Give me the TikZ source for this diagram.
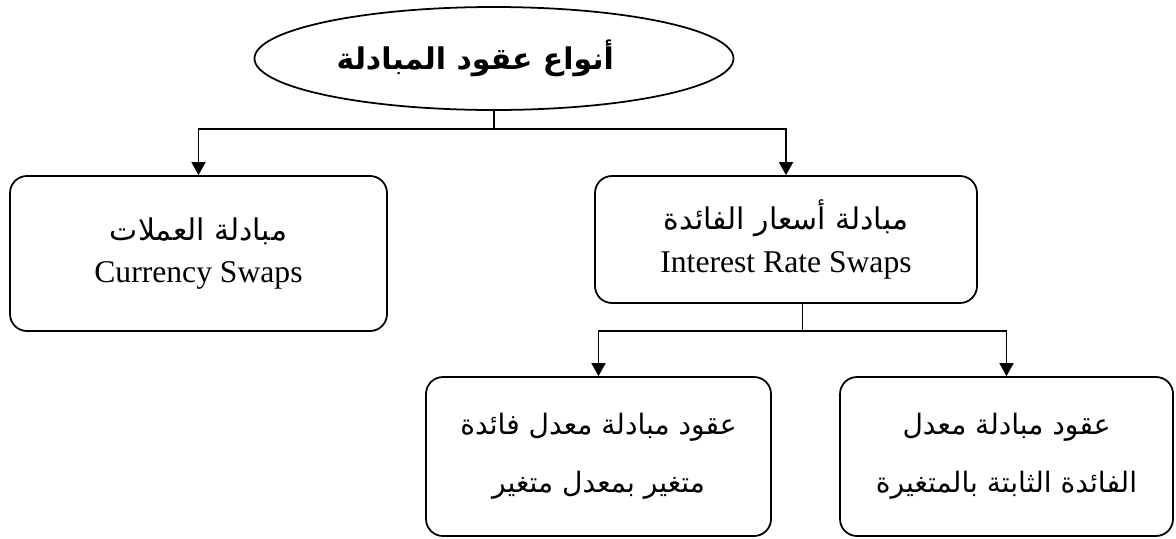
\documentclass[tikz,border=0pt]{standalone}
\usepackage{fontspec}
\setmainfont{Liberation Serif}
\newfontfamily\arabicfont[Script=Arabic]{DejaVu Sans}
\TeXXeTstate=1
\usetikzlibrary{shapes,arrows.meta,positioning,calc}

\begin{document}
\begin{tikzpicture}[
        typebox/.style={ellipse, draw, line width=1pt, minimum width=9.58cm, minimum height=2.06cm, inner sep=0pt},
        swapbox/.style={rectangle, draw, rounded corners=0.34cm, line width=1pt, align=center, inner sep=0pt},
        link/.style={line width=1pt},
        arrow/.style={link, -{Triangle[width=0.28cm,length=0.26cm]}}]

    \useasboundingbox (0,0) rectangle (23.52,-10.76);

    \node[typebox] (types) at (9.88,-1.17)
        {\arabicfont\bfseries\fontsize{17}{22}\selectfont\beginR أنواع عقود المبادلة\endR\rule{0.75cm}{0pt}};
    \node[swapbox, minimum width=7.54cm, minimum height=3.1cm, font=\fontsize{18}{24}\selectfont] (cur) at (3.97,-5.07)
        {{\arabicfont\fontsize{17}{24}\selectfont\beginR مبادلة العملات\endR}\\ Currency Swaps};
    \node[swapbox, minimum width=7.64cm, minimum height=2.54cm, font=\fontsize{18}{24}\selectfont] (irs) at (15.72,-4.79)
        {{\arabicfont\fontsize{17}{24}\selectfont\beginR مبادلة أسعار الفائدة\endR}\\ Interest Rate Swaps};
    \node[swapbox, minimum width=6.9cm, minimum height=3.18cm, font=\arabicfont\fontsize{16}{33}\selectfont] (fl) at (11.97,-9.13)
        {\beginR عقود مبادلة معدل فائدة\endR\\ \beginR متغير بمعدل متغير\endR};
    \node[swapbox, minimum width=6.66cm, minimum height=3.18cm, font=\arabicfont\fontsize{16}{33}\selectfont] (ff) at (20.13,-9.13)
        {\beginR عقود مبادلة معدل\endR\\ \beginR الفائدة الثابتة بالمتغيرة\endR};

    % connectors
    \coordinate (split) at (types.south |- 0,-2.58);
    \coordinate (mid) at ($(fl.north)!0.5!(ff.north)$);
    \coordinate (split2) at (mid |- 0,-6.62);
    \draw[link] (types) -- (split);
    \draw[arrow] (split) -| (cur);
    \draw[arrow] (split) -| (irs);
    \draw[link] (split2 |- irs.south) -- (split2);
    \draw[arrow] (split2) -| (fl);
    \draw[arrow] (split2) -| (ff);

\end{tikzpicture}
\end{document}
